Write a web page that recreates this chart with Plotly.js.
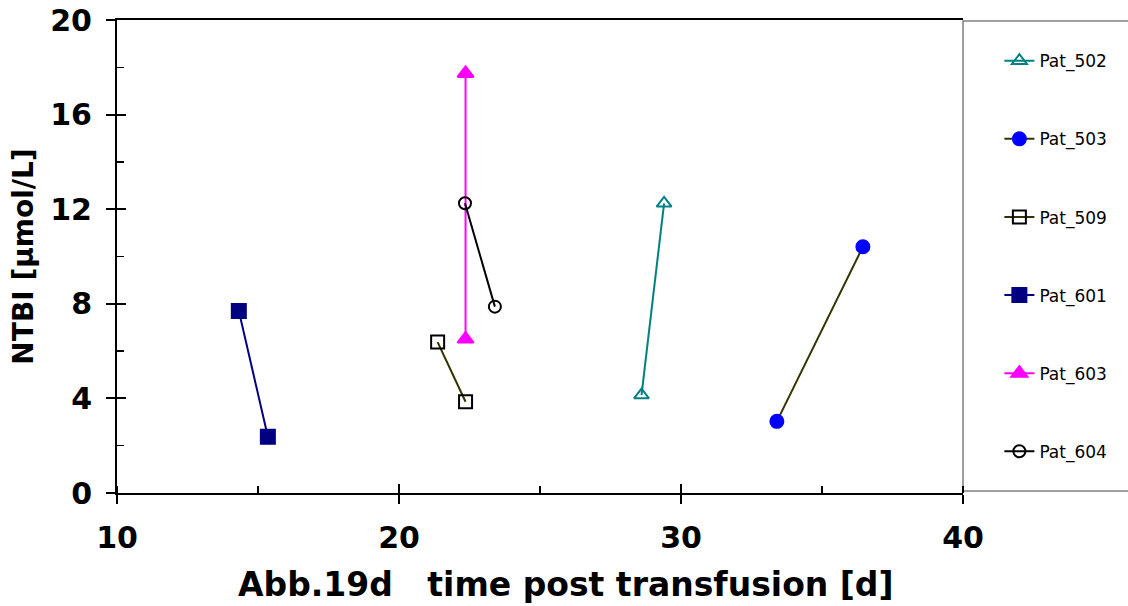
<!DOCTYPE html>
<html>
<head>
<meta charset="utf-8">
<script src="https://cdn.plot.ly/plotly-3.0.1.min.js"></script>
<style>
  html, body { margin: 0; padding: 0; background: #ffffff; }
  #chart { width: 1128px; height: 606px; }
</style>
</head>
<body>
<div id="chart"></div>
<script>
// NTBI measurements per patient: day after transfusion and value in µmol/L
const patients = ["Pat_502", "Pat_503", "Pat_509", "Pat_601", "Pat_603", "Pat_604"];

const pat502Days = [28.6, 29.4];
const pat502Ntbi = [4.14, 12.25];

const pat503Days = [33.4, 36.45];
const pat503Ntbi = [3.03, 10.41];

const pat509Days = [21.37, 22.36];
const pat509Ntbi = [6.38, 3.86];

const pat601Days = [14.32, 15.35];
const pat601Ntbi = [7.70, 2.38];

const pat603Days = [22.36, 22.36];
const pat603Ntbi = [17.74, 6.51];

const pat604Days = [22.34, 23.4];
const pat604Ntbi = [12.25, 7.88];

const xTickVals = [10, 20, 30, 40];
const yTickVals = [0, 4, 8, 12, 16, 20];

const xTitle = "Abb.19d   time post transfusion [d]";
const yTitle = "NTBI [µmol/L]";

const FONT_BOLD = "DejaVu Sans, Liberation Sans, Arial, sans-serif";

function series(name, xs, ys, lineColor, symbol, markerColor, markerLine, size) {
  return {
    type: "scatter",
    mode: "lines+markers",
    name: name,
    legendgroup: name,
    x: xs,
    y: ys,
    line: { color: lineColor, width: 2 },
    marker: {
      symbol: symbol,
      size: size,
      color: markerColor,
      line: { color: markerLine, width: 2 }
    },
    cliponaxis: false
  };
}

const traces = [
  series(patients[0], pat502Days, pat502Ntbi, "#008080", "triangle-up-open", "#008080", "#008080", 13),
  series(patients[1], pat503Days, pat503Ntbi, "#333300", "circle", "#0000ff", "#0000ff", 13),
  series(patients[2], pat509Days, pat509Ntbi, "#333300", "square-open", "#000000", "#000000", 13),
  series(patients[3], pat601Days, pat601Ntbi, "#000080", "square", "#000080", "#000080", 14),
  series(patients[4], pat603Days, pat603Ntbi, "#ff00ff", "triangle-up", "#ff00ff", "#ff00ff", 14),
  series(patients[5], pat604Days, pat604Ntbi, "#000000", "circle-open", "#000000", "#000000", 12)
];

// Overlay axes carry the inner half of the crossing major ticks
traces.push({
  type: "scatter", x: [null], y: [null], xaxis: "x2", yaxis: "y2",
  showlegend: false, hoverinfo: "skip"
});

const layout = {
  width: 1128,
  height: 606,
  margin: { l: 117, r: 165, t: 20, b: 113 },
  paper_bgcolor: "#ffffff",
  plot_bgcolor: "#ffffff",
  showlegend: true,
  legend: {
    x: 1.043,
    xanchor: "left",
    y: 0.951,
    yanchor: "top",
    traceorder: "grouped",
    tracegroupgap: 53,
    bgcolor: "rgba(0,0,0,0)",
    borderwidth: 0,
    font: { family: "DejaVu Sans, Arial, sans-serif", size: 17, color: "#000000" }
  },
  xaxis: {
    range: [10, 40],
    tickvals: xTickVals,
    ticks: "outside",
    ticklen: 9,
    tickwidth: 2,
    tickcolor: "#000000",
    showline: true,
    linecolor: "#000000",
    linewidth: 2,
    mirror: true,
    showgrid: false,
    zeroline: false,
    ticklabelstandoff: 8,
    tickfont: { family: FONT_BOLD, size: 30, color: "#000000", weight: "bold" },
    minor: { dtick: 5, tick0: 15, ticks: "inside", ticklen: 7, tickwidth: 1.5, tickcolor: "#000000", showgrid: false },
    automargin: false
  },
  yaxis: {
    range: [0, 20],
    tickvals: yTickVals,
    ticks: "outside",
    ticklen: 9,
    tickwidth: 2,
    tickcolor: "#000000",
    showline: true,
    linecolor: "#000000",
    linewidth: 2,
    showgrid: false,
    zeroline: false,
    ticklabelstandoff: 8,
    tickfont: { family: FONT_BOLD, size: 30, color: "#000000", weight: "bold" },
    minor: { dtick: 4, tick0: 2, ticks: "inside", ticklen: 7, tickwidth: 1.5, tickcolor: "#000000", showgrid: false },
    title: {
      text: yTitle,
      standoff: 8,
      font: { family: FONT_BOLD, size: 28, color: "#000000", weight: "bold" }
    },
    automargin: false
  },
  xaxis2: {
    overlaying: "x",
    matches: "x",
    range: [10, 40],
    tickvals: xTickVals,
    ticks: "inside",
    ticklen: 9,
    tickwidth: 2,
    tickcolor: "#000000",
    showticklabels: false,
    showline: false,
    showgrid: false,
    zeroline: false
  },
  yaxis2: {
    overlaying: "y",
    matches: "y",
    range: [0, 20],
    tickvals: yTickVals,
    ticks: "inside",
    ticklen: 9,
    tickwidth: 2,
    tickcolor: "#000000",
    showticklabels: false,
    showline: false,
    showgrid: false,
    zeroline: false
  },
  annotations: [
    {
      // x-axis caption, set a little right of the plot centre
      text: xTitle,
      xref: "paper", yref: "paper",
      x: 0.5307, y: -0.1945,
      xanchor: "center", yanchor: "middle",
      showarrow: false,
      font: { family: FONT_BOLD, size: 33, color: "#000000", weight: "bold" }
    }
  ],
  shapes: [
    {
      // legend frame, flush with the right edge of the plot
      type: "rect",
      xref: "paper", yref: "paper",
      x0: 1.0, x1: 1.25, y0: 0.004, y1: 0.998,
      line: { color: "#808080", width: 1.5 },
      fillcolor: "rgba(0,0,0,0)",
      layer: "below"
    }
  ]
};

Plotly.newPlot("chart", traces, layout, { displayModeBar: false, staticPlot: true });
</script>
</body>
</html>
